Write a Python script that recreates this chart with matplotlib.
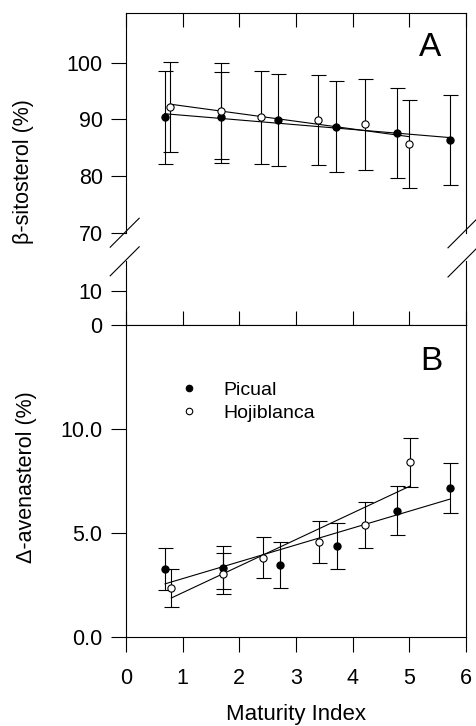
import numpy as np
import matplotlib
matplotlib.use("Agg")
import matplotlib.pyplot as plt
from matplotlib.lines import Line2D

plt.rcParams['font.family'] = ['Liberation Sans', 'DejaVu Sans']

# ---- data ----
picual_x_A = [0.68, 1.68, 2.69, 3.71, 4.79, 5.72]
picual_sito = [90.35, 90.35, 89.9, 88.7, 87.6, 86.3]
picual_sito_err = [8.2, 8.0, 8.1, 8.0, 7.9, 7.9]

hoji_x_A = [0.78, 1.68, 2.39, 3.39, 4.21, 5.0]
hoji_sito = [92.2, 91.5, 90.35, 89.9, 89.1, 85.6]
hoji_sito_err = [7.9, 8.5, 8.2, 8.0, 8.0, 7.8]

picual_x_B = [0.69, 1.71, 2.71, 3.72, 4.79, 5.71]
picual_aven = [3.24, 3.32, 3.43, 4.35, 6.06, 7.14]
picual_aven_err = [1.0, 1.03, 1.1, 1.12, 1.18, 1.2]

hoji_x_B = [0.80, 1.71, 2.41, 3.41, 4.22, 5.01]
hoji_aven = [2.33, 3.03, 3.80, 4.55, 5.37, 8.37]
hoji_aven_err = [0.92, 0.97, 0.98, 1.0, 1.12, 1.2]

x_ticks = [0, 1, 2, 3, 4, 5, 6]
yticks_A_upper = [70, 80, 90, 100]
yticks_A_lower = [0, 10]
yticks_B = [0.0, 5.0, 10.0]
series_names = ["Picual", "Hojiblanca"]

W, H = 476, 726
fig = plt.figure(figsize=(W / 100, H / 100), dpi=100)

def frac(x0, y_top, x1, y_bot):
    return [x0 / W, 1 - y_bot / H, (x1 - x0) / W, (y_bot - y_top) / H]

axU = fig.add_axes(frac(126, 12.7, 466, 232.7))
axL = fig.add_axes(frac(126, 261.3, 466, 324.5))
axB = fig.add_axes(frac(126, 324.5, 466, 636.7))

LW = 0.8
TICKFS = 15.5
TL = 10.8
for ax in (axU, axL, axB):
    ax.set_xlim(0, 6)
    for s in ax.spines.values():
        s.set_linewidth(LW)
    ax.tick_params(width=LW, labelsize=TICKFS)

axU.set_ylim(70, 108.8)
axL.set_ylim(0, 18.7)
axB.set_ylim(0, 15)

def draw_series(ax, x, y, err, filled):
    x = np.asarray(x); y = np.asarray(y)
    coef = np.polyfit(x, y, 1)
    xf = np.array([x.min(), x.max()])
    ax.plot(xf, np.polyval(coef, xf), color='k', lw=LW, zorder=2)
    ax.errorbar(x, y, yerr=err, fmt='none', ecolor='k', elinewidth=LW,
                capsize=5.4, capthick=LW, zorder=3)
    h, = ax.plot(x, y, 'o', ms=5.2, mec='k', mew=0.8,
                 mfc='k' if filled else 'white', zorder=4)
    return h

draw_series(axU, picual_x_A, picual_sito, picual_sito_err, True)
draw_series(axU, hoji_x_A, hoji_sito, hoji_sito_err, False)
h1 = draw_series(axB, picual_x_B, picual_aven, picual_aven_err, True)
h2 = draw_series(axB, hoji_x_B, hoji_aven, hoji_aven_err, False)

# upper A
axU.spines['bottom'].set_visible(False)
axU.set_xticks(x_ticks)
axU.tick_params(axis='x', which='both', bottom=False, top=True, labelbottom=False,
                direction='in', length=10)
axU.set_yticks(yticks_A_upper)
axU.set_yticklabels([str(v) for v in yticks_A_upper])
axU.tick_params(axis='y', direction='out', length=TL, pad=6)

# lower A
axL.spines['top'].set_visible(False)
axL.set_xticks(x_ticks)
axL.tick_params(axis='x', bottom=True, top=False, labelbottom=False,
                direction='in', length=10)
axL.set_yticks(yticks_A_lower)
axL.set_yticklabels([str(v) for v in yticks_A_lower])
axL.tick_params(axis='y', direction='out', length=TL, pad=6)

# B
axB.set_xticks(x_ticks)
axB.set_xticklabels([str(v) for v in x_ticks])
axB.tick_params(axis='x', direction='out', length=TL, pad=11.5)
axB.set_yticks(yticks_B)
axB.set_yticklabels([f"{v:.1f}" for v in yticks_B])
axB.tick_params(axis='y', direction='out', length=TL, pad=6)

# break marks
def slash(cx, cy):
    d = 14.5
    fig.add_artist(Line2D([(cx - d) / W, (cx + d) / W],
                          [1 - (cy + d) / H, 1 - (cy - d) / H],
                          color='k', lw=LW))
slash(124.7, 232.7)
slash(124.7, 261.3)
slash(462.5, 233.3)
slash(462.5, 262.5)

# panel labels
fig.text(430 / W, 1 - 48 / H, "A", fontsize=24, ha='center', va='center')
fig.text(431.7 / W, 1 - 361 / H, "B", fontsize=24, ha='center', va='center')

# axis labels
fig.text(24 / W, 1 - 172 / H, "β-sitosterol (%)", rotation=90, fontsize=15.5,
         ha='center', va='center')
fig.text(27 / W, 1 - 477 / H, "Δ-avenasterol (%)", rotation=90, fontsize=15.5,
         ha='center', va='center')
fig.text(296 / W, 1 - 720 / H, "Maturity Index", fontsize=16, ha='center', va='baseline')

# legend
axB.legend([h1, h2], series_names, loc='upper left',
           bbox_to_anchor=((179.3 - 126) / 340, (636.7 - 381.5) / 312.2),
           frameon=False, fontsize=14, handlelength=1.0, handletextpad=1.25,
           borderpad=0, borderaxespad=0, labelspacing=0.25, markerscale=0.9)

fig.savefig("out.png", dpi=100)
